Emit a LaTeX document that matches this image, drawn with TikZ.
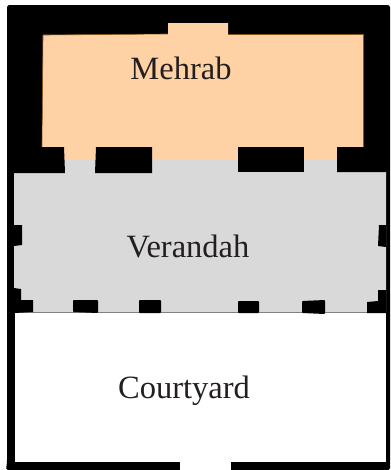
\documentclass[tikz,border=0pt]{standalone}
\usepackage{fontspec}
\setmainfont{Liberation Serif}
\definecolor{mehrabcol}{HTML}{FFD2A6}
\definecolor{verandahcol}{HTML}{D9D9D9}
\definecolor{edgecol}{HTML}{8A5518}
\definecolor{labelcol}{HTML}{231F20}
\tikzset{
  wall/.style={fill=black,draw=none},
  label/.style={text=labelcol,font=\fontsize{18.5}{22}\selectfont,inner sep=0pt}
}
\begin{document}
\begin{tikzpicture}[x=0.02cm,y=-0.02cm]
\useasboundingbox (0,0) rectangle (390,470);

% outer walls
\fill[wall,rounded corners=1pt] (7,5) -- (390,5) -- (390,470) -- (6,470) -- (7,462) -- cycle;
\fill[white] (180,462) -- (231,462) -- (231,470) -- (180,470) -- cycle;

% rooms
\fill[mehrabcol] (42,147) -- (43,35) -- (168,34) -- (168,23) -- (228,23) -- (228,34) -- (363,34) -- (363,147) -- (363,160) -- (42,160) -- cycle;
\draw[edgecol,line width=0.35pt] (42,147) -- (43,35) -- (168,34);
\draw[edgecol,line width=0.35pt] (228,34) -- (363,34) -- (363,147);
\fill[verandahcol] (14,173) -- (64,173) -- (64,160) -- (338,160) -- (338,172) -- (386,172) -- (386,312) -- (14,312) -- cycle;
\fill[white] (15,313) -- (386,313) -- (386,462) -- (15,462) -- cycle;
\draw[gray,line width=0.4pt] (14,312) -- (386,312);

% piers between mehrab and verandah
\fill[wall] (42,147) -- (64,147) -- (65,173) -- (14,173) -- (14,150) -- cycle;
\fill[wall] (96,147) -- (152,147) -- (152,173) -- (95,173) -- cycle;
\fill[wall] (238,147) -- (304,147) -- (304,172) -- (238,172) -- cycle;
\fill[wall] (337,147) -- (364,147) -- (386,147) -- (386,172) -- (337,172) -- cycle;

% side piers
\fill[wall] (14,225) -- (22,225) -- (22,245) -- (14,246) -- cycle;
\fill[wall] (386,225) -- (379,225) -- (378,246) -- (386,247) -- cycle;
\fill[wall] (14,288) -- (21,289) -- (21,300) -- (33,300) -- (33,312) -- (14,313) -- cycle;
\fill[wall] (386,290) -- (378,290) -- (378,301) -- (367,302) -- (367,313) -- (386,313) -- cycle;

% piers between verandah and courtyard
\fill[wall,rounded corners=0.5pt] (73,300) -- (98,300) -- (98,313) -- (73,312) -- cycle;
\fill[wall,rounded corners=0.5pt] (139,300) -- (161,300) -- (161,313) -- (139,313) -- cycle;
\fill[wall,rounded corners=0.5pt] (238,301) -- (259,301) -- (259,313) -- (238,313) -- cycle;
\fill[wall,rounded corners=0.5pt] (302,301) -- (325,300) -- (325,314) -- (302,313) -- cycle;

% labels
\draw (181,68) node[label] (mehrab) {Mehrab};
\draw (188,246) node[label] (verandah) {Verandah};
\draw (184,391) node[label] (courtyard) {Courtyard};
\end{tikzpicture}
\end{document}
